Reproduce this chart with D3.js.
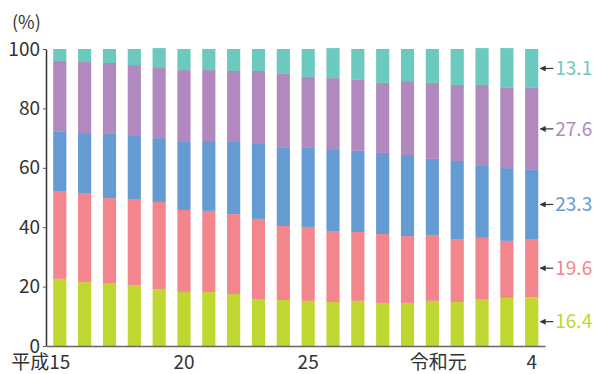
<!DOCTYPE html>
<html>
<head>
<meta charset="utf-8">
<script src="https://cdn.jsdelivr.net/npm/d3@7"></script>
<style>
  html, body { margin: 0; padding: 0; background: #fff; }
  svg { display: block; font-family: "Noto Sans CJK JP", "Noto Sans", sans-serif; }
</style>
</head>
<body>
<svg id="chart" width="594" height="374"></svg>
<script>
// Fiscal years, 平成15 to 令和4
const eras = ["平成", "", "", "", "", "", "", "", "", "", "", "", "", "", "", "", "令和", "", "", ""];
const years = ["15", "16", "17", "18", "19", "20", "21", "22", "23", "24", "25", "26", "27", "28", "29", "30", "元", "2", "3", "4"];
const shownYears = ["15", "20", "25", "元", "4"];

// Shares (%) of each segment, bottom to top
const seriesGreen  = [22.6, 21.5, 21.2, 20.5, 19.2, 18.2, 18.2, 17.5, 15.8, 15.5, 15.2, 14.8, 15.2, 14.5, 14.5, 15.2, 14.8, 15.8, 16.2, 16.4];
const seriesPink   = [29.6, 30.0, 28.6, 29.0, 29.3, 27.6, 27.3, 26.9, 27.0, 24.9, 24.9, 23.9, 23.2, 23.2, 22.5, 22.2, 21.2, 20.6, 19.2, 19.6];
const seriesBlue   = [19.9, 20.2, 21.6, 21.2, 21.5, 22.9, 23.5, 24.3, 25.2, 26.3, 26.6, 27.3, 27.3, 27.3, 27.3, 25.6, 26.3, 24.5, 24.5, 23.3];
const seriesPurple = [23.9, 23.9, 23.9, 23.9, 23.9, 24.2, 23.9, 23.9, 24.6, 24.9, 23.9, 24.2, 23.9, 23.6, 24.9, 25.6, 25.6, 27.0, 27.0, 27.6];
const seriesTeal   = [ 4.0,  4.4,  4.7,  5.4,  6.4,  7.1,  7.1,  7.4,  7.4,  8.4,  9.4, 10.1, 10.4, 11.4, 10.8, 11.4, 12.1, 12.4, 13.4, 13.1];

const yTicks = [0, 20, 40, 60, 80, 100];

const keys = ["green", "pink", "blue", "purple", "teal"];
const colors = {
  green: "#bfd730",
  pink: "#f3868d",
  blue: "#659bd3",
  purple: "#b189be",
  teal: "#6cc9be"
};

const FONT = "\"Noto Sans CJK JP\", \"Noto Sans\", sans-serif";
const FS = "19px";

const table = years.map((y, i) => ({
  year: y,
  green: seriesGreen[i],
  pink: seriesPink[i],
  blue: seriesBlue[i],
  purple: seriesPurple[i],
  teal: seriesTeal[i]
}));

const svg = d3.select("#chart");

const x = d3.scaleBand()
  .domain(years)
  .range([46.5, 545])
  .paddingInner(0.47)
  .paddingOuter(0.27);

const y = d3.scaleLinear().domain([0, 100]).range([346, 49]);

const stacked = d3.stack().keys(keys)(table);

// Bars
svg.append("g")
  .selectAll("g")
  .data(stacked)
  .join("g")
  .attr("fill", d => colors[d.key])
  .selectAll("rect")
  .data(d => d)
  .join("rect")
  .attr("x", d => x(d.data.year))
  .attr("width", x.bandwidth())
  .attr("y", d => y(d[1]))
  .attr("height", d => y(d[0]) - y(d[1]));

// Y axis
const yAxis = svg.append("g")
  .attr("transform", "translate(46,0)")
  .call(d3.axisLeft(y).tickValues(yTicks).tickSize(3).tickSizeOuter(0).tickPadding(3));
yAxis.select(".domain").attr("stroke", "#333").attr("stroke-width", 1.5);
yAxis.selectAll(".tick line").attr("stroke", "#555");
yAxis.selectAll(".tick text")
  .attr("fill", "#333")
  .style("font-size", FS)
  .style("font-family", FONT);

// X axis
const xAxis = svg.append("g")
  .attr("transform", "translate(0,346)")
  .call(d3.axisBottom(x).tickValues(shownYears).tickSize(0).tickSizeOuter(0).tickPadding(10));
xAxis.select(".domain").attr("stroke", "#666").attr("stroke-width", 1.5);
xAxis.selectAll(".tick text")
  .attr("fill", "#333")
  .style("font-size", FS)
  .style("font-family", FONT)
  .each(function (d) {
    const t = d3.select(this);
    const era = eras[years.indexOf(d)];
    t.text(null).attr("text-anchor", "start");
    t.append("tspan").text(era);
    const num = t.append("tspan").text(d);
    const numW = num.node().getComputedTextLength();
    const total = this.getComputedTextLength();
    t.attr("x", -(total - numW / 2));
  });

// Unit label
svg.append("text")
  .attr("x", 12)
  .attr("y", 29)
  .attr("fill", "#333")
  .style("font-size", "18px")
  .style("font-family", FONT)
  .text("(%)");

// Arrow marker for the value callouts
svg.append("defs").append("marker")
  .attr("id", "arrowHead")
  .attr("viewBox", "0 0 10 10")
  .attr("refX", 9)
  .attr("refY", 5)
  .attr("markerWidth", 6)
  .attr("markerHeight", 6)
  .attr("markerUnits", "userSpaceOnUse")
  .attr("orient", "auto")
  .append("path")
  .attr("d", "M0,0 L10,5 L0,10 Z")
  .attr("fill", "#333");

// Value callouts for the last year
const last = stacked.map(s => s[s.length - 1]);
const lastX = x(years[years.length - 1]) + x.bandwidth();
const callouts = svg.append("g");
last.forEach((seg, i) => {
  const key = keys[i];
  const cy = y((seg[0] + seg[1]) / 2);
  callouts.append("line")
    .attr("x1", lastX + 15)
    .attr("x2", lastX + 2)
    .attr("y1", cy)
    .attr("y2", cy)
    .attr("stroke", "#333")
    .attr("stroke-width", 1.2)
    .attr("marker-end", "url(#arrowHead)");
  callouts.append("text")
    .attr("x", lastX + 17)
    .attr("y", cy)
    .attr("dy", "0.35em")
    .attr("fill", colors[key])
    .style("font-size", FS)
    .style("font-family", FONT)
    .text(d3.format(".1f")(seg.data[key]));
});
</script>
</body>
</html>
